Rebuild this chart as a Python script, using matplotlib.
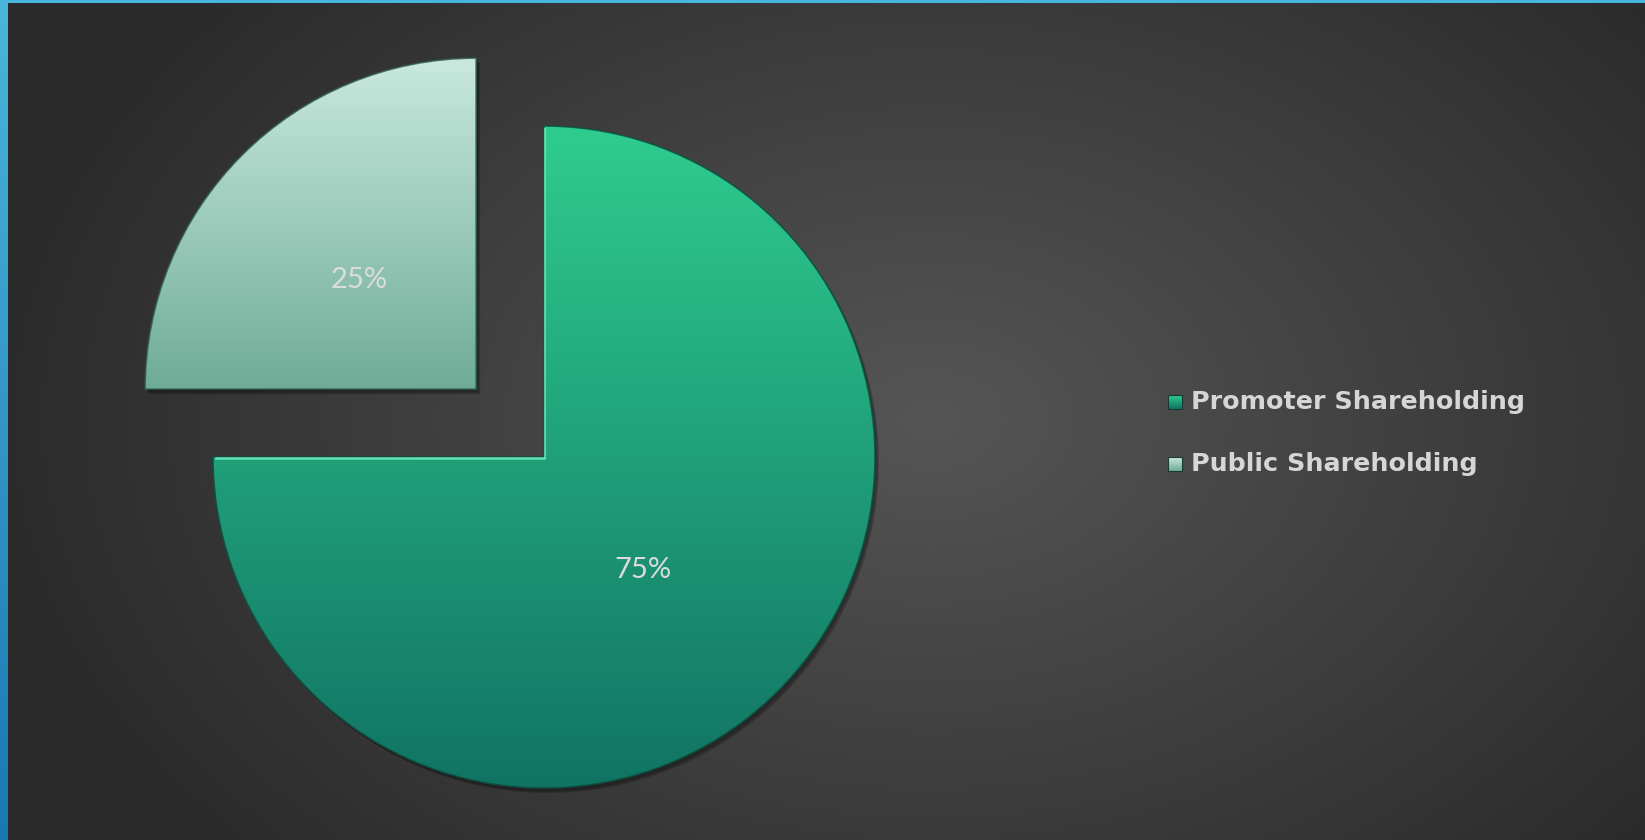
import numpy as np
import matplotlib
matplotlib.use("Agg")
import matplotlib.pyplot as plt
from matplotlib.patches import Wedge, Rectangle
from matplotlib.colors import LinearSegmentedColormap

# ---- data ----
categories = ["Promoter Shareholding", "Public Shareholding"]
values = [75, 25]
labels = ["75%", "25%"]
explode = [0.0, 0.29]   # fraction of radius

# ---- style ----
W, H = 1645, 840
fig = plt.figure(figsize=(W / 100, H / 100), dpi=100)
ax = fig.add_axes([0, 0, 1, 1])

center = (544, 840 - 457)
radius = 331
grads = [("#2fcc8f", "#117363"), ("#c9e9dd", "#6eac98")]
edges = ["#0b4f40", "#2f5a4f"]
hilite = ["#6ff0bd", "#f4fffb"]

wedges, _ = ax.pie(values, explode=[e * radius for e in explode], startangle=90,
                   counterclock=False, center=center, radius=radius, frame=True,
                   wedgeprops=dict(linewidth=0))
ax.set_xlim(0, W)
ax.set_ylim(0, H)
ax.set_aspect("equal")
ax.axis("off")

# background: radial-ish gradient
yy, xx = np.mgrid[0:H, 0:W]
d = np.sqrt(((xx - 930) / 900.0) ** 2 + ((yy - 420) / 620.0) ** 2)
v = np.clip(0.335 - 0.16 * d, 0.165, 0.335)
bg = np.dstack([v, v, v])
ax.imshow(bg, extent=[0, W, 0, H], origin="lower", zorder=0, interpolation="bilinear")

# blue frame (left & top)
left = LinearSegmentedColormap.from_list("lb", ["#1a78b3", "#4ab5da"])
ax.imshow(np.linspace(0, 1, 200).reshape(-1, 1), extent=[0, 8, 0, H], origin="lower",
          cmap=left, aspect="auto", zorder=5)
ax.add_patch(Rectangle((0, H - 3), W, 3, color="#48b6dc", zorder=5, lw=0))

for i, w in enumerate(wedges):
    w.set_facecolor("none")
    w.set_zorder(3)
    cx, cy = w.center
    r = w.r
    # shadow
    for k, a in enumerate([0.10, 0.14, 0.18]):
        sh = Wedge((cx + 2 + k, cy - 3 - k), r, w.theta1, w.theta2, facecolor="black",
                   alpha=a, lw=0, zorder=1.5)
        ax.add_patch(sh)
    # gradient fill over the wedge's own vertical extent
    clip = Wedge((cx, cy), r, w.theta1, w.theta2, transform=ax.transData)
    verts = clip.get_path().vertices
    y0, y1 = verts[:, 1].min(), verts[:, 1].max()
    cmap = LinearSegmentedColormap.from_list("g%d" % i, [grads[i][1], grads[i][0]])
    im = ax.imshow(np.linspace(0, 1, 256).reshape(-1, 1),
                   extent=[cx - r, cx + r, y0, y1], origin="lower",
                   cmap=cmap, aspect="auto", zorder=2)
    im.set_clip_path(clip)
    # dark outline
    ax.add_patch(Wedge((cx, cy), r, w.theta1, w.theta2, facecolor="none",
                       edgecolor=edges[i], lw=1.2, zorder=2.4, alpha=0.8))
    # bevel highlight on upper-left arc part
    th1, th2 = w.theta1, w.theta2
    lo, hi = max(th1, 90), min(th2, 200)
    if hi > lo:
        t = np.radians(np.linspace(lo + 1, hi, 100))
        ax.plot(cx + (r - 1.5) * np.cos(t), cy + (r - 1.5) * np.sin(t), color=hilite[i],
                lw=2.0, alpha=0.9, zorder=2.5, solid_capstyle="round")

# highlight on the top straight edge of the main wedge
w0 = wedges[0]
ax.plot([w0.center[0] - w0.r + 3, w0.center[0]], [w0.center[1] - 1, w0.center[1] - 1],
        color=hilite[0], lw=1.8, alpha=0.85, zorder=2.5)
ax.plot([w0.center[0] + 1, w0.center[0] + 1], [w0.center[1], w0.center[1] + w0.r - 3],
        color=hilite[0], lw=1.5, alpha=0.7, zorder=2.5)

# value labels
label_pos = [(643, 840 - 570), (359, 840 - 280)]
for (x, y), t in zip(label_pos, labels):
    ax.text(x, y, t, color="#dcdcdc", fontsize=21, family="Lato", fontweight="normal",
            ha="center", va="center", zorder=6)

# legend
leg_y = [840 - 402, 840 - 464]
for i, (cat, y) in enumerate(zip(categories, leg_y)):
    cmap = LinearSegmentedColormap.from_list("l%d" % i, [grads[i][1], grads[i][0]])
    ax.imshow(np.linspace(0, 1, 32).reshape(-1, 1),
              extent=[1168, 1182, y - 7, y + 7], origin="lower",
              cmap=cmap, aspect="auto", zorder=6)
    ax.add_patch(Rectangle((1168, y - 7), 14, 14, facecolor="none", edgecolor="#1c3a32",
                           lw=0.8, zorder=7))
    ax.text(1191, y, cat, color="#d6d6d6", fontsize=18.3, fontweight="bold",
            family="DejaVu Sans", ha="left", va="center", zorder=6)

fig.savefig("out.png", dpi=100)
